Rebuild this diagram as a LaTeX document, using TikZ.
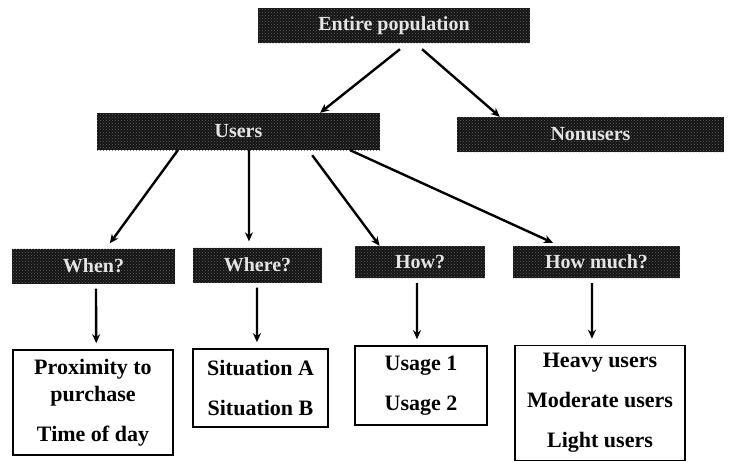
\documentclass[tikz,border=0pt]{standalone}
\usepackage{fontspec}
\setmainfont{Liberation Serif}
\usetikzlibrary{calc,arrows.meta,patterns}
\begin{document}
\begin{tikzpicture}[x=1pt,y=-1pt,
  hdr/.style={rectangle, inner sep=0pt, preaction={fill=black!92}, pattern=crosshatch dots, pattern color=black!62,
              text=white!90!black, font=\fontsize{20}{24}\selectfont\bfseries},
  leaf/.style={rectangle, draw=black, line width=1.6pt, fill=white, inner sep=0pt, align=center,
              font=\fontsize{22}{40}\selectfont\bfseries},
  arr/.style={line width=2.4pt, -{Stealth[length=9pt,width=8pt]}},
  varr/.style={line width=2.4pt, -{Stealth[length=9pt,width=8pt]}, shorten <=5pt, shorten >=6pt}
]
\useasboundingbox[fill=white] (0,0) rectangle (730,461);

% header boxes
\node[hdr, minimum width=272pt, minimum height=35pt] (ent) at (394,25.5) {Entire population};
\node[hdr, minimum width=283pt, minimum height=37pt] (users) at (238.5,131.5) {Users};
\node[hdr, minimum width=267pt, minimum height=35pt] (non) at (590.5,134.5) {Nonusers};
\node[hdr, minimum width=163pt, minimum height=35pt] (when) at (93.5,266) {When?};
\node[hdr, minimum width=129pt, minimum height=35pt] (where) at (257.5,265) {Where?};
\node[hdr, minimum width=130pt, minimum height=32pt] (how) at (420,262) {How?};
\node[hdr, minimum width=167pt, minimum height=32pt] (much) at (596.5,262) {How much?};

% leaf boxes
\node[leaf, minimum width=160pt, minimum height=105pt, font=\fontsize{22}{27}\selectfont\bfseries] (prox) at (93,402.5)
  {Proximity to\\purchase\\[13pt]Time of day};
\node[leaf, minimum width=135pt, minimum height=78pt] (sit) at (260.5,388) {Situation A\\Situation B};
\node[leaf, minimum width=132pt, minimum height=79pt] (usage) at (421,385.5) {Usage 1\\Usage 2};
\node[leaf, minimum width=170pt, minimum height=115pt] (heavy) at (600,403) {Heavy users\\Moderate users\\Light users};

% arrows from entire population
\draw[arr] ($(ent.south west)!0.522!(ent.south east)+(0,6)$) -- ($(users.north west)!0.788!(users.north east)$);
\draw[arr] ($(ent.south west)!0.603!(ent.south east)+(0,6)$) -- ($(non.north west)!0.161!(non.north east)$);

% arrows from users
\draw[arr] ($(users.south west)!0.286!(users.south east)$) -- ($(when.north west)!0.60!(when.north east)+(0,-5)$);
\draw[arr] ($(users.south west)!0.537!(users.south east)$) -- ($(where.north west)!0.434!(where.north east)+(0,-6)$);
\draw[arr] ($(users.south west)!0.76!(users.south east)+(0,5)$) -- ($(how.north west)!0.19!(how.north east)$);
\draw[arr] ($(users.south west)!0.894!(users.south east)$) -- ($(much.north west)!0.24!(much.north east)+(0,-3)$);

% vertical arrows
\draw[varr] ($(when.south west)!0.515!(when.south east)$) -- ($(prox.north west)!0.52!(prox.north east)$);
\draw[varr] ($(where.south west)!0.496!(where.south east)$) -- ($(sit.north west)!0.474!(sit.north east)$);
\draw[varr] ($(how.south west)!0.477!(how.south east)$) -- ($(usage.north west)!0.47!(usage.north east)$);
\draw[varr] ($(much.south west)!0.473!(much.south east)$) -- ($(heavy.north west)!0.453!(heavy.north east)$);
\end{tikzpicture}
\end{document}
